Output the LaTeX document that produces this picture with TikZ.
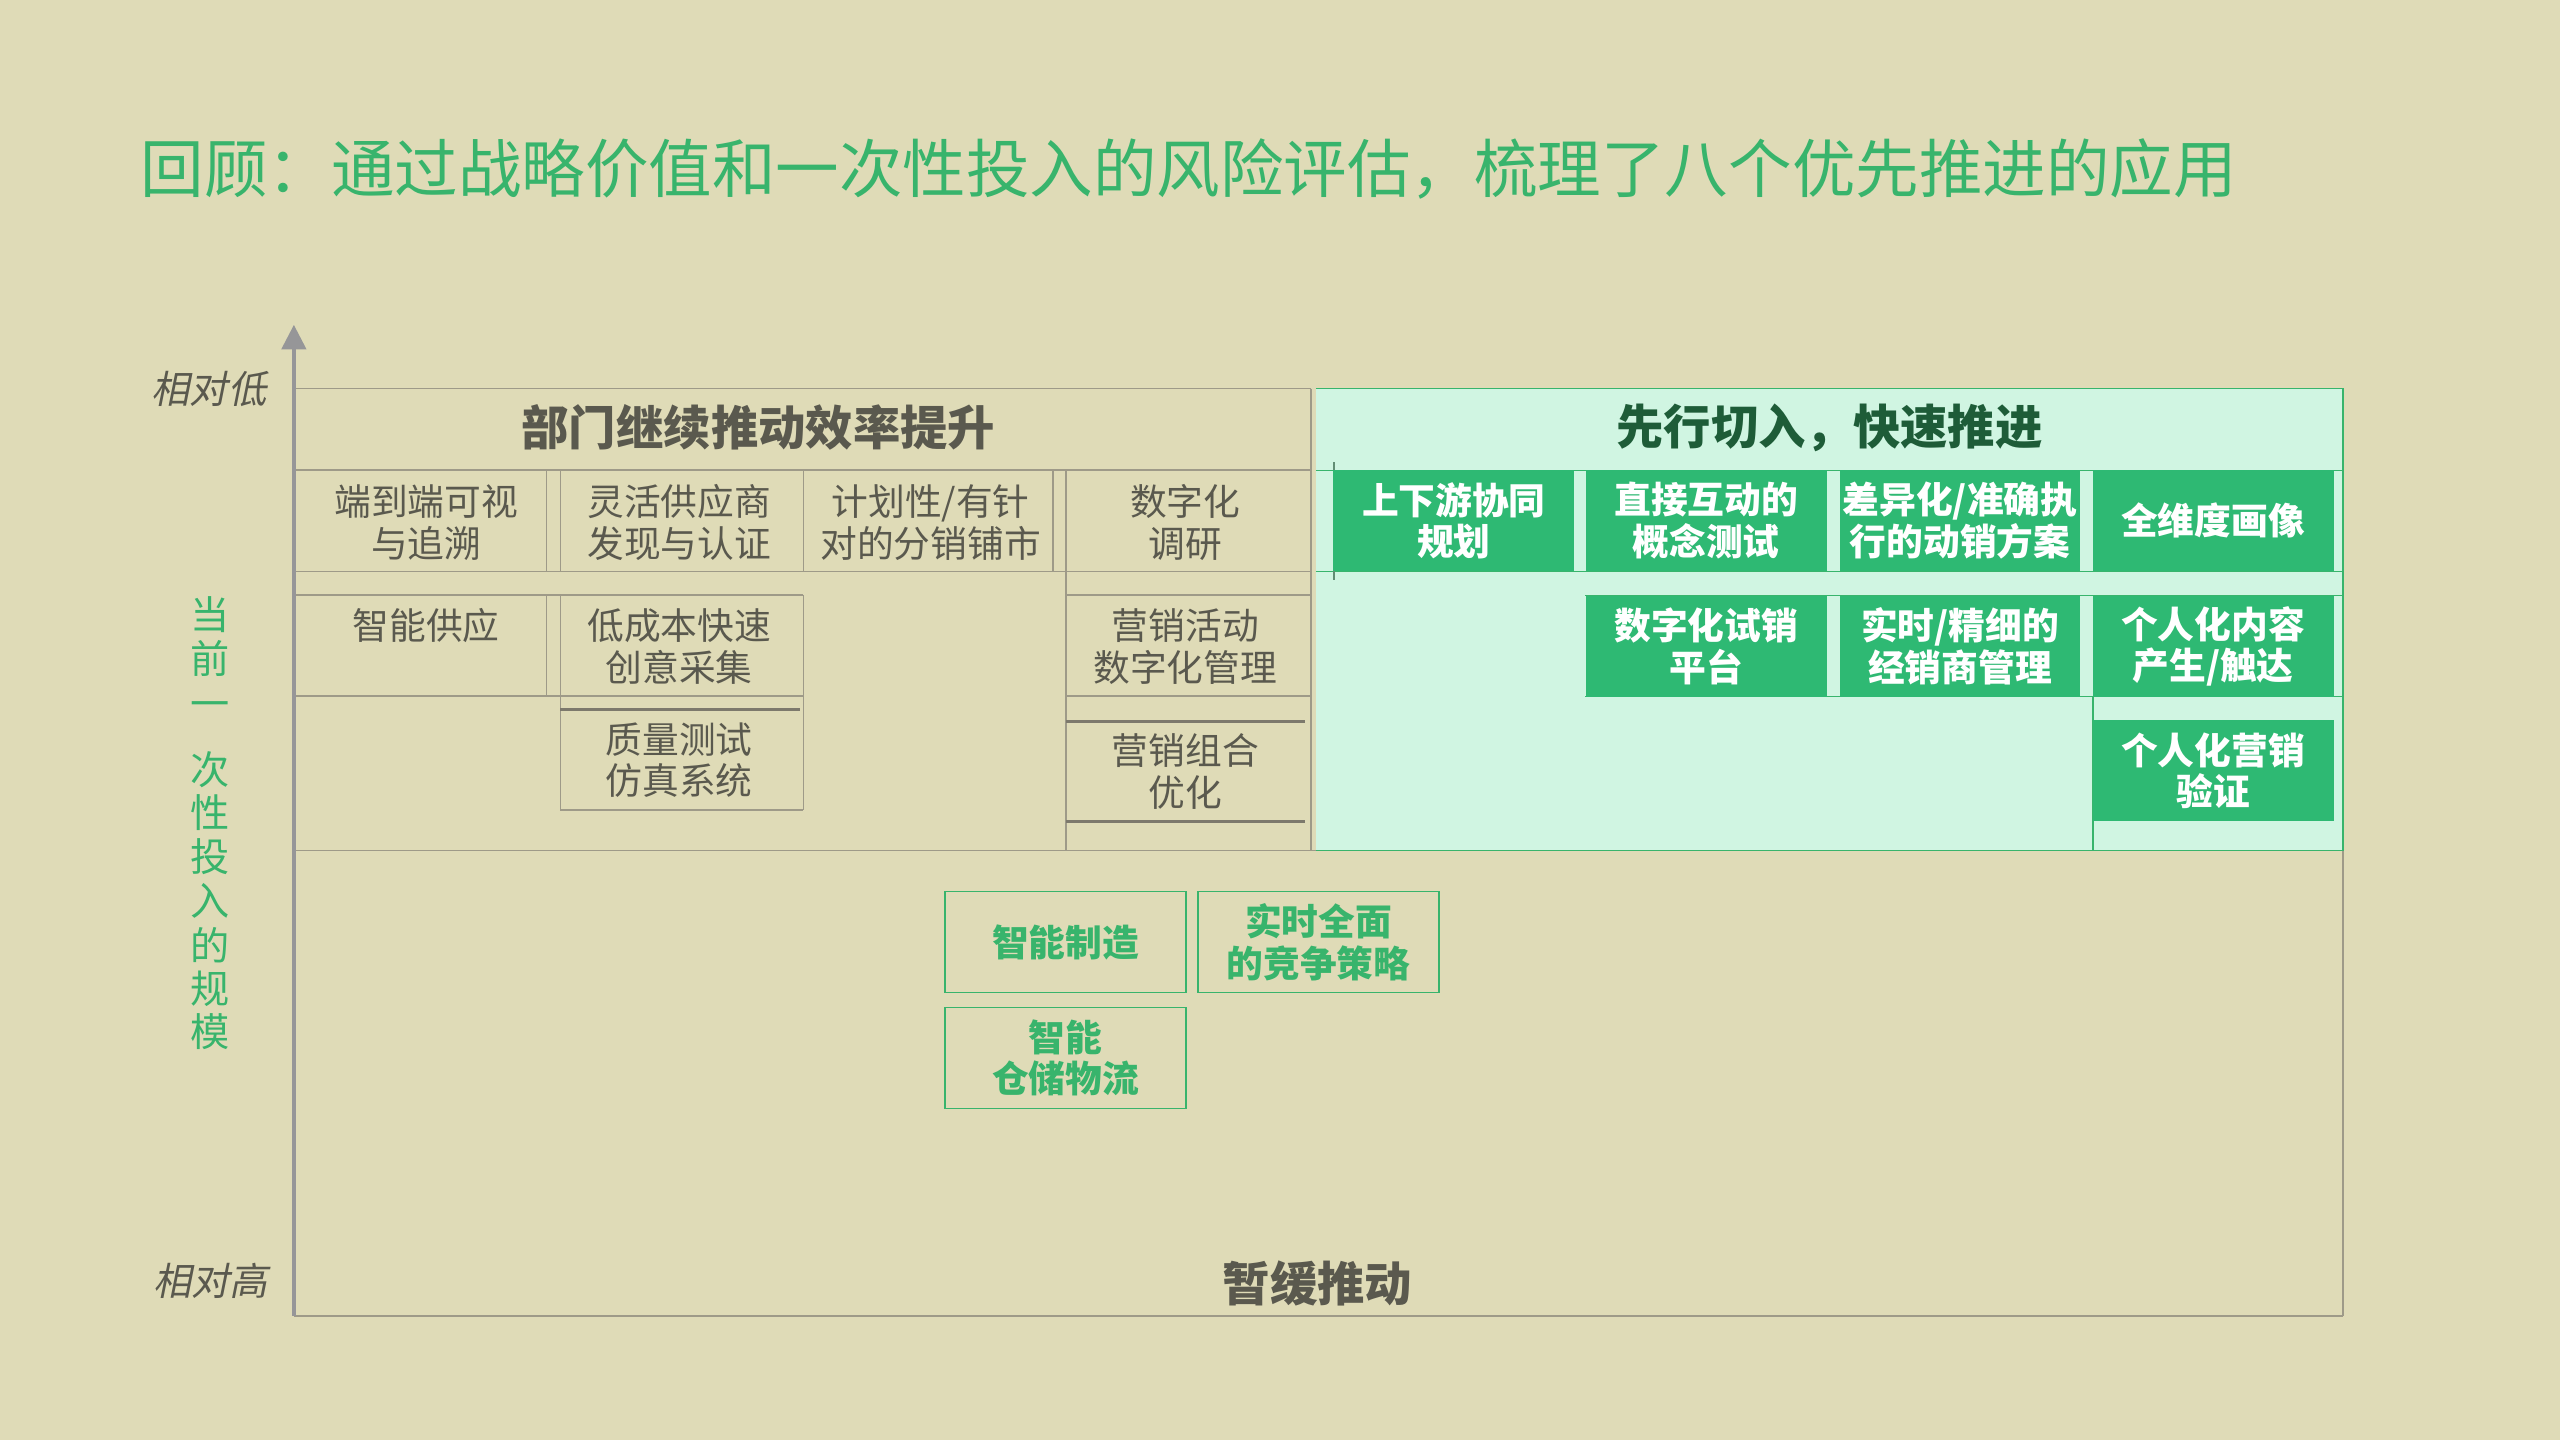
\documentclass[tikz,border=0pt]{standalone}
\usepackage{fontspec}
\setmainfont{Noto Sans CJK SC}
\newfontfamily\slantcjk[FakeSlant=0.2]{Noto Sans CJK SC}
\usetikzlibrary{arrows.meta}
\definecolor{bg}{RGB}{223,219,183}
\definecolor{tgreen}{RGB}{56,180,108}
\definecolor{bgreen}{RGB}{46,185,115}
\definecolor{mint}{RGB}{208,245,226}
\definecolor{dgreen}{RGB}{30,92,56}
\definecolor{tgray}{RGB}{90,89,78}
\definecolor{lgray}{RGB}{158,154,136}
\definecolor{dgray}{RGB}{125,121,108}
\definecolor{axisgray}{RGB}{150,150,152}
\tikzset{
 cell/.style={inner sep=0, align=center, text=tgray, font=\fontsize{22.5}{25.5}\selectfont},
 gbox/.style={fill=bgreen, text=white, inner sep=0, minimum width=147.5pt, minimum height=62pt, align=center, font=\fontsize{22.5}{25.5}\selectfont\bfseries},
 obox/.style={draw=tgreen, line width=0.8pt, text=tgreen, inner sep=0, minimum width=147.7pt, minimum height=62pt, align=center, font=\fontsize{22.5}{25.5}\selectfont\bfseries},
 head/.style={inner sep=0, font=\fontsize{29}{32}\selectfont\bfseries},
 gline/.style={draw=lgray, line width=0.9pt},
 tline/.style={draw=dgray, line width=1.8pt},
 mline/.style={draw=tgreen, line width=0.8pt},
 vch/.style={inner sep=0, text=tgreen, font=\fontsize{24}{26}\selectfont},
 side/.style={inner sep=0, text=tgray, font=\fontsize{23.5}{26}\slantcjk},
}
\begin{document}
\begin{tikzpicture}[x=1pt,y=-1pt]
\fill[bg] (0,0) rectangle (1568,882);
\useasboundingbox (0,0) rectangle (1568,882);

% title
\node[anchor=west, inner sep=0, text=tgreen, font=\fontsize{38.9}{42}\selectfont] (title) at (86,103.6) {回顾：通过战略价值和一次性投入的风险评估，梳理了八个优先推进的应用};

% mint quadrant
\fill[mint] (806,238) rectangle (1435,521);
\draw[mline] (806,288) -- (1435,288);
\draw[mline] (806,350) -- (1435,350);
\draw[mline] (971,364.8) -- (1435,364.8);
\draw[mline] (971,426.7) -- (1435,426.7);
\draw[mline] (1282,426.7) -- (1282,521);
\draw[mline] (806,238) -- (1435,238) -- (1435,521) -- (806,521);
\draw[dgreen!70, line width=0.8pt] (817,283) -- (817,355);

% left quadrant grid
\draw[gline] (180,238) -- (803,238);
\draw[gline] (803,238) -- (803,521);
\draw[gline] (180,288) -- (803,288);
\draw[gline] (180,350) -- (803,350);
\draw[gline] (334.8,288) -- (334.8,350);
\draw[gline] (343.3,288) -- (343.3,350);
\draw[gline] (492,288) -- (492,350);
\draw[gline] (645,288) -- (645,350);
\draw[gline] (653,288) -- (653,521);
\draw[gline] (180,364.4) -- (492,364.4);
\draw[gline] (653,364.4) -- (803,364.4);
\draw[gline] (180,426.3) -- (492,426.3);
\draw[gline] (653,426.3) -- (803,426.3);
\draw[gline] (334.8,364.4) -- (334.8,426.3);
\draw[gline] (343.3,364.4) -- (343.3,496);
\draw[gline] (492,364.4) -- (492,496);
\draw[gline] (343.3,496) -- (492,496);
\draw[tline] (343.3,434.8) -- (490,434.8);
\draw[tline] (653,442) -- (799,442);
\draw[tline] (653,503.2) -- (799,503.2);
\draw[gline] (180,521) -- (806,521);
\draw[gline] (1435,521) -- (1435,806);
\draw[gline] (180,806) -- (1435,806);

% axis
\coordinate (axb) at (180,806);
\coordinate (axt) at (180,199);
\draw[axisgray, line width=2pt, -{Triangle[length=15pt,width=15pt]}] (axb) -- (axt);

% side labels
\node[side] (low) at (128,238) {相对低};
\node[side] (high) at (129,784.5) {相对高};
\node[vch] (v1) at (128.5,376.6) {当};
\node[vch] (v2) at (128.5,403) {前};
\node[vch] (v3) at (128.5,435) {一};
\node[vch] (v4) at (128.5,471.5) {次};
\node[vch] (v5) at (128.5,498) {性};
\node[vch] (v6) at (128.5,525) {投};
\node[vch] (v7) at (128.5,552) {入};
\node[vch] (v8) at (128.5,579) {的};
\node[vch] (v9) at (128.5,605.5) {规};
\node[vch] (v10) at (128.5,632) {模};

% headers
\node[head, text=tgray] (hleft) at (464.5,262) {部门继续推动效率提升};
\node[head, text=dgreen] (hright) at (1120.5,262) {先行切入，快速推进};
\node[head, text=tgray] (hbottom) at (807,786) {暂缓推动};

% left cells
\node[cell] (c11) at (261,320) {端到端可视\\与追溯};
\node[cell] (c12) at (416,320) {灵活供应商\\发现与认证};
\node[cell] (c13) at (570,320) {计划性/有针\\对的分销铺市};
\node[cell] (c14) at (726,320) {数字化\\调研};
\node[cell] (c21) at (261,383) {智能供应};
\node[cell] (c22) at (416,396) {低成本快速\\创意采集};
\node[cell] (c24) at (726,396) {营销活动\\数字化管理};
\node[cell] (c32) at (416,465.5) {质量测试\\仿真系统};
\node[cell] (c34) at (726,472.5) {营销组合\\优化};

% green boxes
\node[gbox] (g1) at (890.5,319) {上下游协同\\规划};
\node[gbox] (g2) at (1045,319) {直接互动的\\概念测试};
\node[gbox] (g3) at (1200.5,319) {差异化/准确执\\行的动销方案};
\node[gbox] (g4) at (1355.5,319) {全维度画像};
\node[gbox] (g5) at (1045,396) {数字化试销\\平台};
\node[gbox] (g6) at (1200.5,396) {实时/精细的\\经销商管理};
\node[gbox] (g7) at (1355.5,396) {个人化内容\\产生/触达};
\node[gbox] (g8) at (1355.5,472) {个人化营销\\验证};

% bottom boxes
\node[obox] (b1) at (652.6,577) {智能制造};
\node[obox] (b2) at (807.6,577) {实时全面\\的竞争策略};
\node[obox] (b3) at (652.6,648) {智能\\仓储物流};
\end{tikzpicture}
\end{document}
